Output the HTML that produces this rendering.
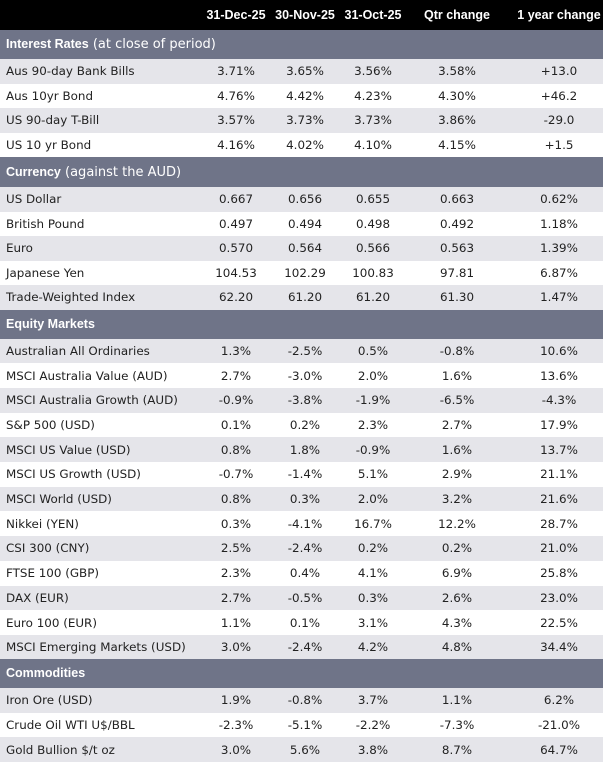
<!DOCTYPE html>
<html><head><meta charset="utf-8"><style>
*{margin:0;padding:0;box-sizing:border-box}
body{width:603px;height:762px;overflow:hidden;background:#fff;font-family:"DejaVu Sans","Liberation Sans",sans-serif;font-size:11.9px;color:#222}
.r{position:absolute;left:0;width:603px;display:flex;align-items:center;white-space:nowrap}
.g{background:#e5e5ea}
.w{background:#fff}
.h{background:#6f7488;color:#fff;font-size:13px}
.h b{font-family:"Liberation Sans",sans-serif;font-weight:bold;font-size:12.5px}
.top{background:#000;color:#fff;font-family:"Liberation Sans",sans-serif;font-weight:bold;font-size:12.5px}
.c0{position:absolute;left:6px}
.c{position:absolute;text-align:center;width:90px}
.c1{left:191px}.c2{left:260px}.c3{left:328px}.c4{left:412px}.c5{left:514px}
</style></head><body>
<div class="r top" style="top:0;height:30px"><span class="c c1">31-Dec-25</span><span class="c c2">30-Nov-25</span><span class="c c3">31-Oct-25</span><span class="c c4">Qtr change</span><span class="c c5">1 year change</span></div>
<div class="r h" style="top:30px;height:29px"><span class="c0"><b>Interest Rates</b> (at close of period)</span></div>
<div id="rows"></div>
<script>
const secs=[
[59,24.5,[["Aus 90-day Bank Bills","3.71%","3.65%","3.56%","3.58%","+13.0"],["Aus 10yr Bond","4.76%","4.42%","4.23%","4.30%","+46.2"],["US 90-day T-Bill","3.57%","3.73%","3.73%","3.86%","-29.0"],["US 10 yr Bond","4.16%","4.02%","4.10%","4.15%","+1.5"]]],
[187,24.5,[["US Dollar","0.667","0.656","0.655","0.663","0.62%"],["British Pound","0.497","0.494","0.498","0.492","1.18%"],["Euro","0.570","0.564","0.566","0.563","1.39%"],["Japanese Yen","104.53","102.29","100.83","97.81","6.87%"],["Trade-Weighted Index","62.20","61.20","61.20","61.30","1.47%"]]],
[338.5,24.7,[["Australian All Ordinaries","1.3%","-2.5%","0.5%","-0.8%","10.6%"],["MSCI Australia Value (AUD)","2.7%","-3.0%","2.0%","1.6%","13.6%"],["MSCI Australia Growth (AUD)","-0.9%","-3.8%","-1.9%","-6.5%","-4.3%"],["S&P 500 (USD)","0.1%","0.2%","2.3%","2.7%","17.9%"],["MSCI US Value (USD)","0.8%","1.8%","-0.9%","1.6%","13.7%"],["MSCI US Growth (USD)","-0.7%","-1.4%","5.1%","2.9%","21.1%"],["MSCI World (USD)","0.8%","0.3%","2.0%","3.2%","21.6%"],["Nikkei (YEN)","0.3%","-4.1%","16.7%","12.2%","28.7%"],["CSI 300 (CNY)","2.5%","-2.4%","0.2%","0.2%","21.0%"],["FTSE 100 (GBP)","2.3%","0.4%","4.1%","6.9%","25.8%"],["DAX (EUR)","2.7%","-0.5%","0.3%","2.6%","23.0%"],["Euro 100 (EUR)","1.1%","0.1%","3.1%","4.3%","22.5%"],["MSCI Emerging Markets (USD)","3.0%","-2.4%","4.2%","4.8%","34.4%"]]],
[688,24.7,[["Iron Ore (USD)","1.9%","-0.8%","3.7%","1.1%","6.2%"],["Crude Oil WTI U$/BBL","-2.3%","-5.1%","-2.2%","-7.3%","-21.0%"],["Gold Bullion $/t oz","3.0%","5.6%","3.8%","8.7%","64.7%"]]]];
const heads=[null,[157,"Currency"," (against the AUD)"],[309.5,"Equity Markets",""],[659,"Commodities",""]];
let h="";
secs.forEach((s,i)=>{
 if(heads[i]){const[t,a,b]=heads[i];h+=`<div class="r h" style="top:${t}px;height:${(i==1?30:29)}px"><span class="c0"><b>${a}</b>${b}</span></div>`;}
 s[2].forEach((r,j)=>{h+=`<div class="r ${j%2?'w':'g'}" style="top:${s[0]+j*s[1]}px;height:${s[1]}px"><span class="c0">${r[0].replace('&','&amp;')}</span>`;
 for(let k=1;k<6;k++)h+=`<span class="c c${k}">${r[k]}</span>`;h+='</div>';});
});
document.getElementById('rows').innerHTML=h;
</script>
</body></html>
